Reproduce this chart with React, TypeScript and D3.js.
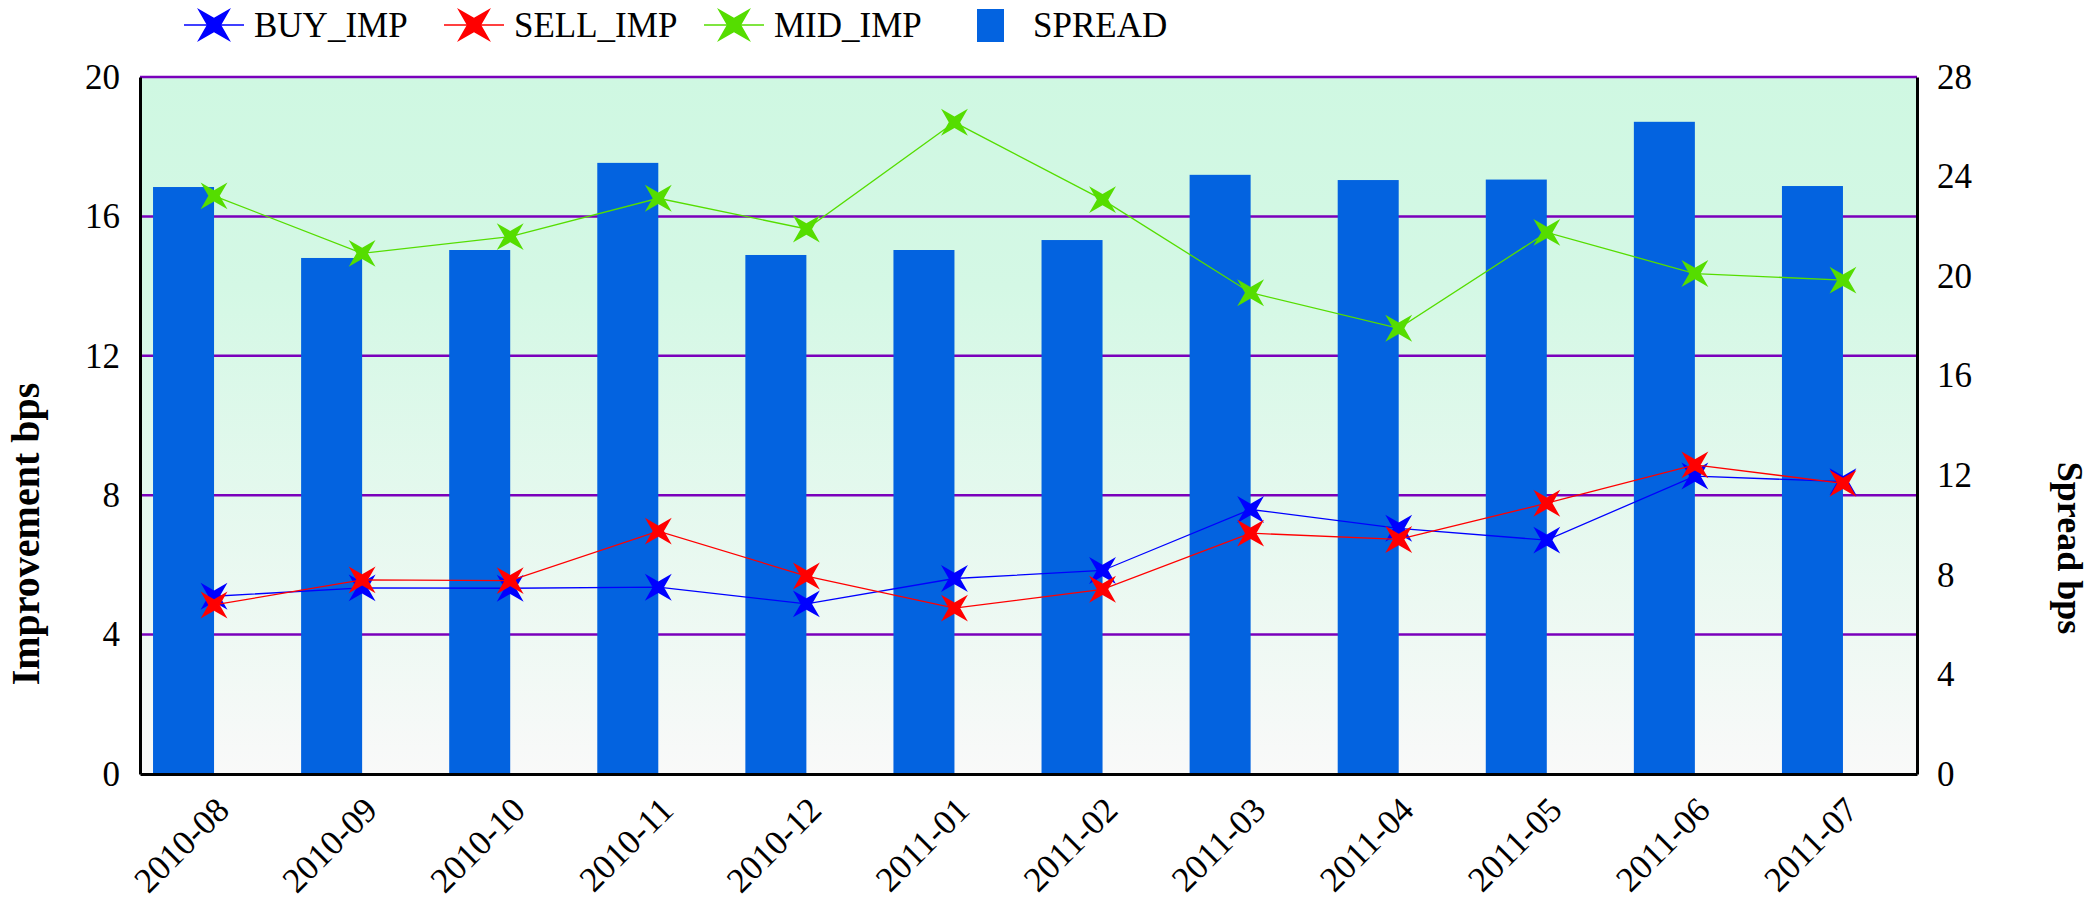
import React, { useRef, useEffect } from 'react';
import * as d3 from 'd3';

const months = ['2010-08', '2010-09', '2010-10', '2010-11', '2010-12', '2011-01', '2011-02', '2011-03', '2011-04', '2011-05', '2011-06', '2011-07'];
const spread = [23.58, 20.73, 21.05, 24.55, 20.85, 21.05, 21.45, 24.07, 23.86, 23.88, 26.2, 23.62];
const buyImp = [5.1, 5.34, 5.33, 5.36, 4.88, 5.61, 5.84, 7.59, 7.05, 6.71, 8.55, 8.39];
const sellImp = [4.85, 5.57, 5.55, 6.97, 5.68, 4.76, 5.3, 6.91, 6.73, 7.77, 8.87, 8.34];
const midImp = [16.59, 14.94, 15.42, 16.52, 15.64, 18.7, 16.48, 13.81, 12.79, 15.54, 14.36, 14.17];
const leftTicks = [0, 4, 8, 12, 16, 20];
const rightTicks = [0, 4, 8, 12, 16, 20, 24, 28];

const width = 2095;
const height = 905;
const margin = { top: 77, right: 178, bottom: 131, left: 140 };
const font = '"Liberation Serif", "Times New Roman", serif';

// four pointed star, tips on the diagonals
const star4 = {
    draw(ctx, size) {
        const r = Math.sqrt(size);
        const ri = r * 0.3;
        for (let i = 0; i < 8; i++) {
            const a = -Math.PI / 4 + i * Math.PI / 4;
            const rr = i % 2 === 0 ? r : ri;
            const px = rr * Math.cos(a), py = rr * Math.sin(a);
            if (i === 0) ctx.moveTo(px, py); else ctx.lineTo(px, py);
        }
        ctx.closePath();
    }
};

export default function App() {
    const ref = useRef(null);

    useEffect(() => {
        document.body.style.margin = '0';
        const svg = d3.select(ref.current);
        svg.selectAll('*').remove();

        const x = d3.scaleBand().domain(months).range([margin.left, width - margin.right]).padding(0);
        const y = d3.scaleLinear().domain([0, 20]).range([height - margin.bottom, margin.top]);
        const y2 = d3.scaleLinear().domain([0, 28]).range([height - margin.bottom, margin.top]);
        const bw = x.bandwidth();
        const barW = bw * 0.412;
        const cx = d => x(d) + bw / 2;

        const defs = svg.append('defs');
        const grad = defs.append('linearGradient').attr('id', 'bg').attr('x1', 0).attr('y1', 0).attr('x2', 0).attr('y2', 1);
        grad.append('stop').attr('offset', '0%').attr('stop-color', '#cff8e2');
        grad.append('stop').attr('offset', '30%').attr('stop-color', '#d4f8e5');
        grad.append('stop').attr('offset', '100%').attr('stop-color', '#f9f9f9');

        svg.append('rect')
            .attr('x', margin.left).attr('y', margin.top)
            .attr('width', width - margin.left - margin.right)
            .attr('height', height - margin.top - margin.bottom)
            .attr('fill', 'url(#bg)');

        // grid
        svg.append('g').selectAll('line').data(leftTicks.filter(t => t > 0)).join('line')
            .attr('x1', margin.left).attr('x2', width - margin.right)
            .attr('y1', d => y(d)).attr('y2', d => y(d))
            .attr('stroke', '#7a00bb').attr('stroke-width', 2.5);

        // bars
        svg.append('g').selectAll('rect').data(months).join('rect')
            .attr('x', d => cx(d) - barW)
            .attr('width', barW)
            .attr('y', (d, i) => y2(spread[i]))
            .attr('height', (d, i) => y2(0) - y2(spread[i]))
            .attr('fill', '#0363e0');

        const sym = d3.symbol().type(star4).size(19 * 19);
        const legendSym = d3.symbol().type(star4).size(24 * 24);
        const series = [
            { vals: midImp, color: '#55dd00' },
            { vals: buyImp, color: '#0000ff' },
            { vals: sellImp, color: '#ff0000' },
        ];
        series.forEach(s => {
            const line = d3.line().x((d, i) => cx(months[i])).y(d => y(d));
            svg.append('path').datum(s.vals)
                .attr('fill', 'none').attr('stroke', s.color).attr('stroke-width', 1.3)
                .attr('d', line);
            svg.append('g').selectAll('path').data(s.vals).join('path')
                .attr('transform', (d, i) => `translate(${cx(months[i])},${y(d)})`)
                .attr('d', sym)
                .attr('fill', s.color);
        });

        // axes
        const yAxis = svg.append('g')
            .attr('transform', `translate(${margin.left},0)`)
            .call(d3.axisLeft(y).tickValues(leftTicks).tickSize(0).tickPadding(20));
        const y2Axis = svg.append('g')
            .attr('transform', `translate(${width - margin.right},0)`)
            .call(d3.axisRight(y2).tickValues(rightTicks).tickSize(0).tickPadding(20));
        const xAxis = svg.append('g')
            .attr('transform', `translate(0,${height - margin.bottom})`)
            .call(d3.axisBottom(x).tickSize(0).tickPadding(0));

        [yAxis, y2Axis, xAxis].forEach(g => {
            g.attr('font-family', null).attr('font-size', null);
            g.select('.domain').attr('stroke', '#000').attr('stroke-width', 3);
            g.selectAll('text').style('font-family', font).style('font-size', '35px').attr('fill', '#000');
        });
        xAxis.selectAll('text')
            .attr('text-anchor', 'end')
            .attr('dy', null)
            .attr('y', 0)
            .attr('transform', 'translate(17,38) rotate(-45)');

        // axis titles
        svg.append('text')
            .attr('transform', `translate(39,534) rotate(-90)`)
            .attr('text-anchor', 'middle')
            .style('font-family', font).attr('font-weight', 'bold').style('font-size', '40px')
            .text('Improvement bps');
        svg.append('text')
            .attr('transform', `translate(2058,548) rotate(90)`)
            .attr('text-anchor', 'middle')
            .style('font-family', font).attr('font-weight', 'bold').style('font-size', '36px')
            .text('Spread bps');

        // legend
        const legend = [
            { name: 'BUY_IMP', color: '#0000ff', x: 184 },
            { name: 'SELL_IMP', color: '#ff0000', x: 444 },
            { name: 'MID_IMP', color: '#55dd00', x: 704 },
        ];
        const lg = svg.append('g');
        legend.forEach(l => {
            lg.append('line').attr('x1', l.x).attr('x2', l.x + 60).attr('y1', 25).attr('y2', 25)
                .attr('stroke', l.color).attr('stroke-width', 1.5);
            lg.append('path').attr('transform', `translate(${l.x + 30},25)`).attr('d', legendSym).attr('fill', l.color);
            lg.append('text').attr('x', l.x + 70).attr('y', 37)
                .style('font-family', font).style('font-size', '35px').text(l.name);
        });
        lg.append('rect').attr('x', 977).attr('y', 9).attr('width', 27).attr('height', 33).attr('fill', '#0363e0');
        lg.append('text').attr('x', 1033).attr('y', 37)
            .style('font-family', font).style('font-size', '35px').text('SPREAD');
    }, []);

    return (
        <svg ref={ref} width={width} height={height} style={{ display: 'block', background: '#fff' }} />
    );
}
